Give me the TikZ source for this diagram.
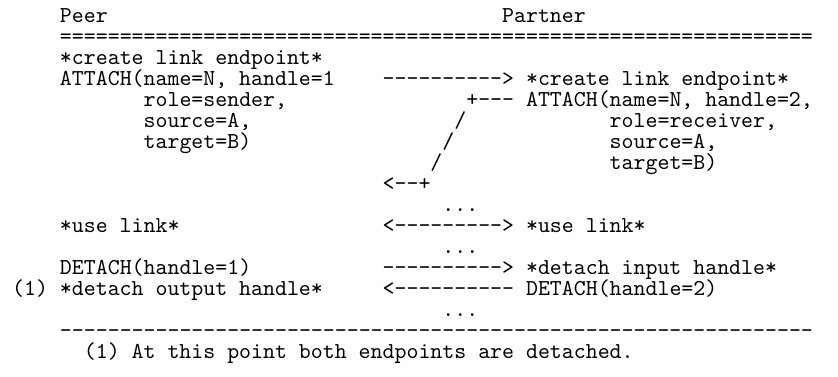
\documentclass[tikz,border=0pt]{standalone}
\usepackage{tikz}

% a run of the same character, kept apart so no ligature forms
\newcommand{\charrun}[2]{\foreach \k in {1,...,#1}{#2\kern0pt}}

\begin{document}
\begin{tikzpicture}[x=5.7225pt, y=-10.056pt,
    every node/.style={anchor=base west, inner sep=0pt, outer sep=0pt,
        font=\ttfamily\fontsize{10.9}{12}\selectfont}]
    \useasboundingbox (-5.02,-1.081) rectangle (65.10,16.824);

    % --- Header ---
    \node (peer) at (0,0) {Peer};
    \node (partner) at (37,0) {Partner};
    \node (toprule) at (0,1) {\charrun{63}{=}};
    % ---

    % --- Attach ---
    \node (peercreate) at (0,2) {*create link endpoint*};
    \node (peerattach) at (0,3) {ATTACH(name=N, handle=1};
    \node (attacharrow) at (27,3) {\charrun{10}{-}>};
    \node (partnercreate) at (39,3) {*create link endpoint*};
    \node (peerrole) at (7,4) {role=sender,};
    \node (replystart) at (34,4) {+\charrun{3}{-}};
    \node (partnerattach) at (39,4) {ATTACH(name=N, handle=2,};
    \node (peersource) at (7,5) {source=A,};
    \node (slasha) at (33,5) {/};
    \node (partnerrole) at (46,5) {role=receiver,};
    \node (peertarget) at (7,6) {target=B)};
    \node (slashb) at (32,6) {/};
    \node (partnersource) at (46,6) {source=A,};
    \node (slashc) at (31,7) {/};
    \node (partnertarget) at (46,7) {target=B)};
    \node (replyend) at (27,8) {<\charrun{2}{-}+};
    % ---

    % --- Use ---
    \node (gapa) at (32,9) {...};
    \node (peeruse) at (0,10) {*use link*};
    \node (usearrow) at (27,10) {<\charrun{9}{-}>};
    \node (partneruse) at (39,10) {*use link*};
    \node (gapb) at (32,11) {...};
    % ---

    % --- Detach ---
    \node (peerdetach) at (0,12) {DETACH(handle=1)};
    \node (detacharrow) at (27,12) {\charrun{10}{-}>};
    \node (partnerinput) at (39,12) {*detach input handle*};
    \node (peeroutput) at (-4,13) {(1) *detach output handle*};
    \node (returnarrow) at (27,13) {<\charrun{10}{-}};
    \node (partnerdetach) at (39,13) {DETACH(handle=2)};
    \node (gapc) at (32,14) {...};
    % ---

    % --- Footnote ---
    \node (bottomrule) at (0,15) {\charrun{63}{-}};
    \node (note) at (2,16) {(1) At this point both endpoints are detached.};
    % ---
\end{tikzpicture}
\end{document}
